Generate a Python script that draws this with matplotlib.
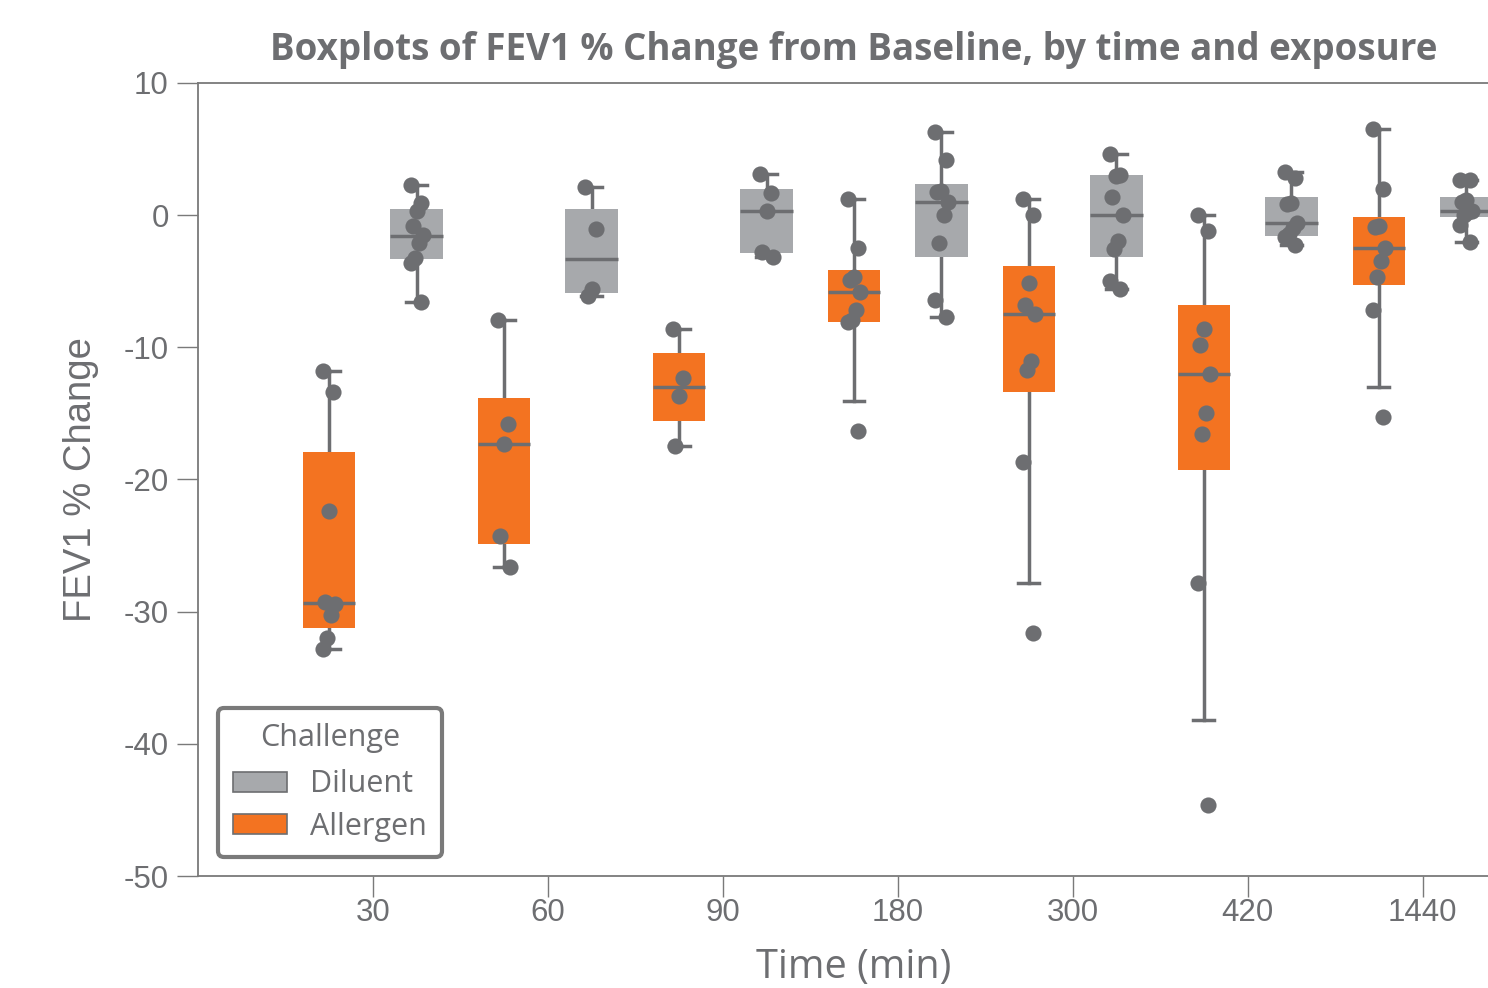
import numpy as np
import matplotlib
matplotlib.use("Agg")
import matplotlib.pyplot as plt
from matplotlib.patches import Patch

plt.rcParams['axes.unicode_minus'] = False

# ---------------- data ----------------
times = ["30", "60", "90", "180", "300", "420", "1440"]

allergen_points = [
    [-11.8, -13.4, -22.4, -29.25, -29.4, -30.25, -32.0, -32.8],
    [-7.95, -15.8, -17.3, -24.3, -26.65],
    [-8.6, -12.35, -13.7, -17.5],
    [1.2, -2.45, -4.65, -4.9, -5.85, -7.15, -7.95, -8.05, -16.35],
    [1.25, 0.05, -5.1, -6.8, -7.5, -11.0, -11.7, -18.65, -31.65],
    [0.05, -1.2, -8.65, -9.85, -12.0, -15.0, -16.55, -27.85, -44.6],
    [6.5, 2.0, -0.85, -0.9, -2.45, -3.5, -4.65, -7.15, -15.3],
]
diluent_points = [
    [2.3, 0.9, 0.3, -0.8, -1.5, -2.1, -3.25, -3.65, -6.6],
    [2.15, -1.05, -5.55, -6.15],
    [3.15, 1.65, 0.3, -2.75, -3.2],
    [6.3, 4.2, 1.8, 1.75, 1.0, 0.0, -2.1, -6.4, -7.7],
    [4.65, 3.05, 3.0, 1.4, 0.05, -1.95, -2.55, -5.0, -5.6],
    [3.3, 2.8, 0.9, 0.85, -0.6, -1.0, -1.45, -1.65, -2.25],
    [2.65, 2.65, 1.15, 1.0, 0.35, 0.25, 0.0, -0.75, -2.0],
]

# box statistics: (whislo, q1, median, q3, whishi)
allergen_stats = [
    (-32.8, -31.2, -29.35, -17.9, -11.8),
    (-26.65, -24.9, -17.3, -13.85, -7.95),
    (-17.5, -15.6, -13.0, -10.45, -8.6),
    (-14.05, -8.1, -5.85, -4.15, 1.2),
    (-27.85, -13.4, -7.5, -3.85, 1.25),
    (-38.2, -19.3, -12.0, -6.8, 0.05),
    (-13.0, -5.3, -2.45, -0.15, 6.5),
]
diluent_stats = [
    (-6.6, -3.35, -1.55, 0.45, 2.3),
    (-6.15, -5.9, -3.3, 0.5, 2.15),
    (-3.2, -2.9, 0.3, 1.95, 3.15),
    (-7.7, -3.15, 1.0, 2.35, 6.3),
    (-5.6, -3.2, 0.05, 3.05, 4.65),
    (-2.25, -1.55, -0.6, 1.35, 3.3),
    (-2.0, -0.15, 0.35, 1.4, 2.65),
]

series_names = ["Diluent", "Allergen"]

# ---------------- style ----------------
TXT = "#6D6E71"
GRAY = "#A7A9AC"
ORANGE = "#F37321"
PT = "#6D6E71"
GOTHAM = "Open Sans"

fig = plt.figure(figsize=(14.88, 9.88), dpi=100)
ax = fig.add_axes([198/1488, 112/988, 1312/1488, 793/988])


def draw(stats_list, pts_list, offset, color):
    positions = np.arange(len(stats_list)) + offset
    stats = []
    for (wl, q1, md, q3, wh) in stats_list:
        stats.append(dict(whislo=wl, q1=q1, med=md, q3=q3, whishi=wh, fliers=[]))
    ax.bxp(stats, positions=positions, widths=0.30, capwidths=0.12,
           patch_artist=True, showfliers=False, manage_ticks=False,
           boxprops=dict(facecolor=color, edgecolor="none", linewidth=0, zorder=2),
           medianprops=dict(color=PT, linewidth=2.5, zorder=3),
           whiskerprops=dict(color=PT, linewidth=2.5, zorder=1),
           capprops=dict(color=PT, linewidth=2.5, zorder=1))
    for pos, pts in zip(positions, pts_list):
        n = len(pts)
        pattern = np.array([((k * 5) % 7) / 6.0 - 0.5 for k in range(n)]) * 0.07
        ax.scatter(pos + pattern, pts, s=135, color=PT, zorder=4, linewidths=0)


draw(allergen_stats, allergen_points, -0.25, ORANGE)
draw(diluent_stats, diluent_points, 0.25, GRAY)

ax.set_xlim(-1, 6.5)
ax.set_ylim(-50, 10)
ax.set_xticks(np.arange(len(times)))
ax.set_xticklabels(times)
ax.set_yticks(np.arange(-50, 11, 10))

for side in ["left", "bottom", "top"]:
    ax.spines[side].set_color("#7A7A7A")
    ax.spines[side].set_linewidth(1.3)
ax.spines["right"].set_visible(False)
ax.tick_params(axis="both", direction="out", length=15, width=1.0, color="#7A7A7A",
               labelcolor=TXT, labelsize=22.5)
ax.tick_params(axis="x", pad=1)
ax.tick_params(axis="y", pad=6)
for lab in ax.get_xticklabels() + ax.get_yticklabels():
    lab.set_family("Liberation Sans")

ax.set_ylabel("FEV1 % Change", fontsize=27.5, color=TXT, family="Liberation Sans", labelpad=18)
ax.set_xlabel("Time (min)", fontsize=28.5, color=TXT, family=GOTHAM, labelpad=14)

fig.text(854/1488, 1 - 50/988, "Boxplots of FEV1 % Change from Baseline, by time and exposure",
         ha="center", va="center", fontsize=26.5, fontweight="bold", color=TXT, family=GOTHAM)

handles = [Patch(facecolor=GRAY, edgecolor="#6D6E71", linewidth=1.2, label="Diluent"),
           Patch(facecolor=ORANGE, edgecolor="#6D6E71", linewidth=1.2, label="Allergen")]
leg = ax.legend(handles=handles, title="Challenge", loc="lower left",
                bbox_to_anchor=(0.0152, 0.024), borderaxespad=0,
                frameon=True, fancybox=True,
                handlelength=1.75, handleheight=0.65, handletextpad=0.75,
                labelspacing=0.4, borderpad=0.5, prop=dict(family=GOTHAM, size=22),
                title_fontproperties=dict(family=GOTHAM, size=22))
leg.get_title().set_color(TXT)
for t in leg.get_texts():
    t.set_color(TXT)
frame = leg.get_frame()
frame.set_edgecolor("#7A7A7A")
frame.set_linewidth(3)
frame.set_alpha(1)
leg._legend_box.sep = 12

fig.savefig("out.png", dpi=100)
